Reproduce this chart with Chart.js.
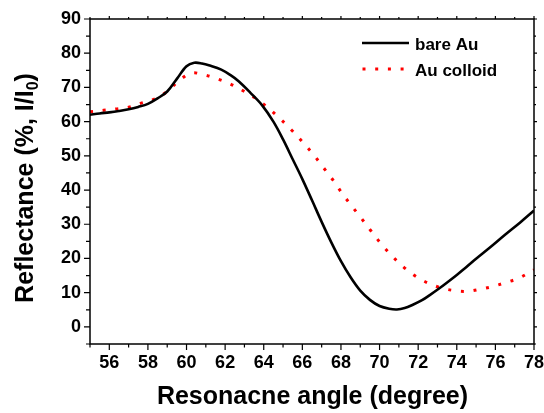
<!DOCTYPE html>
<html>
<head>
<meta charset="utf-8">
<script src="https://cdn.jsdelivr.net/npm/chart.js@4"></script>
<style>
  html, body { margin: 0; padding: 0; background: #fff; }
</style>
</head>
<body>
<canvas id="myChart" width="544" height="413"></canvas>
<script>
'use strict';

// values
let angleBare = [55.0, 55.5, 56.0, 56.5, 57.0, 57.5, 58.0, 58.5, 59.0, 59.5, 60.0, 60.4, 60.8, 61.2, 61.8,
    62.3, 62.7, 63.3, 63.9, 64.5, 65.0, 65.5, 66.0, 66.5, 67.0, 67.5, 68.0, 68.5, 69.0, 69.5, 70.0,
    70.5, 70.9, 71.3, 71.7, 72.2, 72.6, 73.1, 73.5, 74.0, 74.5, 75.0, 75.7, 76.5, 77.3, 78.0];
let reflBare = [62.0, 62.4, 62.7, 63.1, 63.6, 64.3, 65.2, 66.8, 68.8, 72.5, 76.2, 77.2, 77.0, 76.4, 75.2,
    73.5, 71.8, 68.5, 64.9, 60.0, 54.8, 49.0, 43.2, 37.0, 30.7, 24.7, 19.2, 14.5, 10.6, 7.9, 6.1,
    5.3, 5.1, 5.5, 6.4, 7.8, 9.3, 11.3, 13.0, 15.2, 17.5, 19.9, 23.1, 26.9, 30.6, 34.0];

let angleColloid = [55.0, 55.7, 56.35, 57.0, 57.65, 58.3, 58.95, 59.6, 60.25, 60.9, 61.55, 62.2, 62.85,
    63.5, 64.15, 64.8, 65.45, 66.05, 66.6, 67.1, 67.6, 68.05, 68.55, 69.05, 69.55, 70.05, 70.65,
    71.3, 71.95, 72.6, 73.25, 73.9, 74.55, 75.2, 75.85, 76.55, 77.2, 77.85, 78.0];
let reflColloid = [62.9, 63.3, 63.7, 64.2, 65.4, 66.5, 68.6, 71.9, 74.2, 73.7, 72.6, 71.2, 69.3,
    67.1, 64.4, 61.1, 57.5, 53.8, 50.2, 46.5, 42.8, 39.1, 35.4, 31.8, 28.1, 24.5, 20.7,
    17.2, 14.5, 12.6, 11.3, 10.6, 10.4, 11.0, 11.8, 13.0, 14.2, 16.2, 16.7];

let xTicks = [56, 58, 60, 62, 64, 66, 68, 70, 72, 74, 76, 78];
let yTicks = [0, 10, 20, 30, 40, 50, 60, 70, 80, 90];
let seriesNames = ['bare Au', 'Au colloid'];
let xTitle = 'Resonacne angle (degree)';
let yTitle = 'Reflectance (%, I/I';
let yTitleSub = '0';

let fontName = '"Liberation Sans", Arial, sans-serif';

function toPoints(xs, ys) {
    let pts = [];
    for (let i = 0; i < xs.length; i++) {
        pts.push({ x: xs[i], y: ys[i] });
    }
    return pts;
}

// axis box, minor/major ticks, titles and the legend
let decorations = {
    id: 'decorations',
    afterDraw(chart) {
        let ctx = chart.ctx;
        let a = chart.chartArea;
        let xs = chart.scales.x;
        let ys = chart.scales.y;
        ctx.save();
        ctx.strokeStyle = '#000';
        ctx.lineWidth = 1.5;
        ctx.strokeRect(a.left, a.top, a.right - a.left, a.bottom - a.top);

        ctx.lineWidth = 1.2;
        ctx.beginPath();
        for (let v = 55; v <= 78; v++) {
            let px = xs.getPixelForValue(v);
            let major = xTicks.includes(v);
            ctx.moveTo(px, a.bottom);
            ctx.lineTo(px, a.bottom + (major ? 6 : 3.5));
            ctx.moveTo(px, a.top);
            ctx.lineTo(px, a.top - (major ? 3 : 2));
        }
        for (let v = -5; v <= 90; v += 5) {
            let py = ys.getPixelForValue(v);
            let major = yTicks.includes(v);
            ctx.moveTo(a.left, py);
            ctx.lineTo(a.left - (major ? 6 : 4), py);
            ctx.moveTo(a.right, py);
            ctx.lineTo(a.right + (major ? 3 : 2), py);
        }
        ctx.stroke();

        // x title
        ctx.fillStyle = '#000';
        ctx.font = 'bold 25px ' + fontName;
        ctx.textAlign = 'center';
        ctx.textBaseline = 'alphabetic';
        ctx.fillText(xTitle, 312.5, 404);

        // y title with subscript
        ctx.save();
        ctx.translate(33, 188);
        ctx.rotate(-Math.PI / 2);
        ctx.font = 'bold 25px ' + fontName;
        let w1 = ctx.measureText(yTitle).width;
        ctx.font = 'bold 16px ' + fontName;
        let w2 = ctx.measureText(yTitleSub).width;
        ctx.font = 'bold 25px ' + fontName;
        let w3 = ctx.measureText(')').width;
        let start = -(w1 + w2 + w3) / 2;
        ctx.textAlign = 'left';
        ctx.fillText(yTitle, start, 0);
        ctx.font = 'bold 16px ' + fontName;
        ctx.fillText(yTitleSub, start + w1, 5);
        ctx.font = 'bold 25px ' + fontName;
        ctx.fillText(')', start + w1 + w2, 0);
        ctx.restore();

        // legend
        ctx.font = 'bold 17px ' + fontName;
        ctx.textAlign = 'left';
        ctx.strokeStyle = '#000';
        ctx.lineWidth = 2.5;
        ctx.beginPath();
        ctx.moveTo(362, 43);
        ctx.lineTo(409, 43);
        ctx.stroke();
        ctx.fillText(seriesNames[0], 415, 50);

        ctx.strokeStyle = '#ff0000';
        ctx.lineWidth = 3;
        ctx.setLineDash([3, 9.7]);
        ctx.beginPath();
        ctx.moveTo(362.5, 69);
        ctx.lineTo(409, 69);
        ctx.stroke();
        ctx.setLineDash([]);
        ctx.fillText(seriesNames[1], 415, 76);
        ctx.restore();
    }
};

let ctx = document.getElementById('myChart').getContext('2d');
let myChart = new Chart(ctx, {
    type: 'line',
    data: {
        datasets: [{
            label: seriesNames[0],
            data: toPoints(angleBare, reflBare),
            borderColor: '#000000',
            borderWidth: 2.6,
            pointRadius: 0,
            tension: 0.35,
            fill: false
        }, {
            label: seriesNames[1],
            data: toPoints(angleColloid, reflColloid),
            borderColor: '#ff0000',
            borderWidth: 3,
            borderDash: [3, 9.7],
            borderCapStyle: 'butt',
            pointRadius: 0,
            tension: 0.35,
            fill: false
        }]
    },
    options: {
        responsive: false,
        animation: false,
        layout: {
            autoPadding: false,
            padding: { left: 60, right: 10, top: 19, bottom: 39 }
        },
        plugins: {
            legend: { display: false },
            tooltip: { enabled: false }
        },
        scales: {
            x: {
                type: 'linear',
                min: 55,
                max: 78,
                grid: { display: false, drawTicks: false },
                border: { display: false },
                afterBuildTicks: function (scale) {
                    scale.ticks = xTicks.map(v => ({ value: v }));
                },
                afterFit: function (scale) {
                    scale.height = 30;
                    scale.paddingLeft = 0;
                    scale.paddingRight = 0;
                },
                ticks: {
                    autoSkip: false,
                    maxRotation: 0,
                    padding: 8,
                    color: '#000',
                    font: { family: fontName, size: 18, weight: 'bold' }
                }
            },
            y: {
                min: -5,
                max: 90,
                grid: { display: false, drawTicks: false },
                border: { display: false },
                afterBuildTicks: function (scale) {
                    scale.ticks = yTicks.map(v => ({ value: v }));
                },
                afterFit: function (scale) {
                    scale.width = 30;
                    scale.paddingTop = 0;
                    scale.paddingBottom = 0;
                },
                ticks: {
                    padding: 9,
                    color: '#000',
                    font: { family: fontName, size: 18, weight: 'bold' }
                }
            }
        }
    },
    plugins: [decorations]
});
</script>
</body>
</html>
